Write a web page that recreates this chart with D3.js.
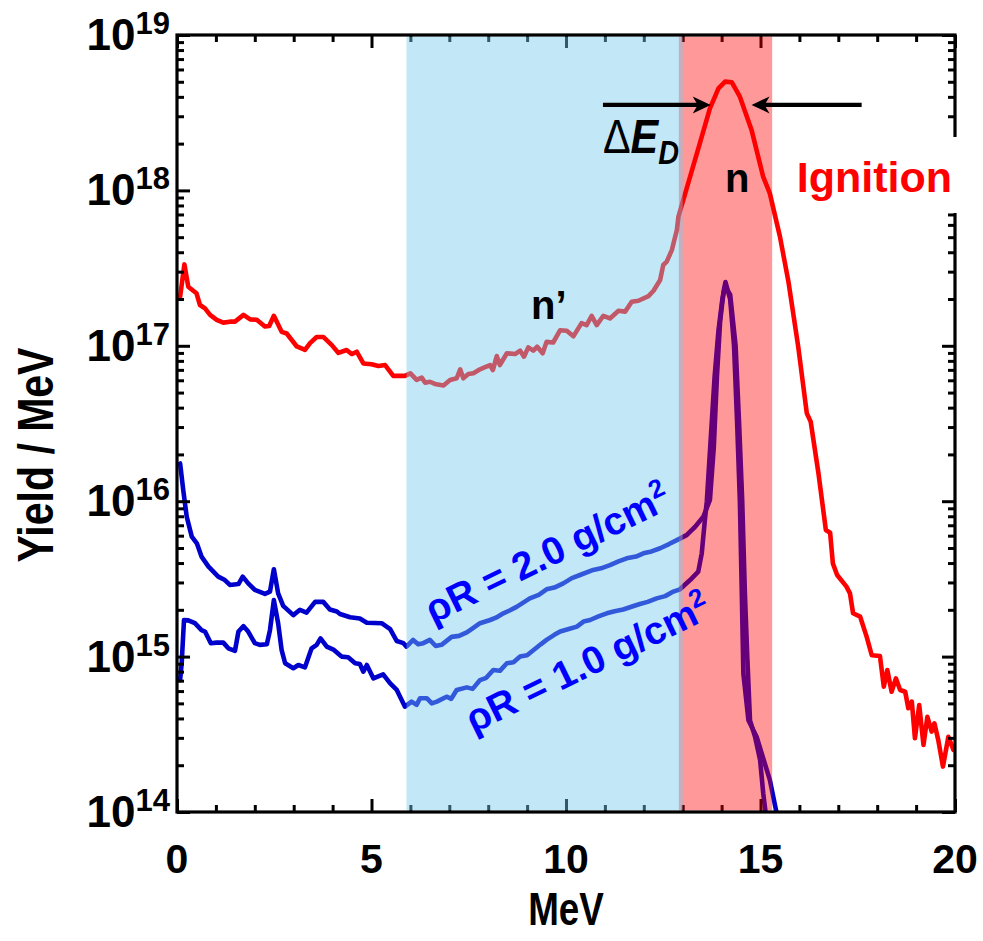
<!DOCTYPE html>
<html><head><meta charset="utf-8">
<script src="https://cdn.jsdelivr.net/npm/d3@7"></script>
<style>
body{margin:0;background:#fff}
text{font-family:"Liberation Sans",Arial,Helvetica,sans-serif;font-weight:bold}
</style>
</head><body>
<svg id="chart" width="983" height="941"></svg>
<script>
// ---------------- data ----------------
const xTicksMajor = [0, 5, 10, 15, 20];
const yDecades = [1e14, 1e15, 1e16, 1e17, 1e18, 1e19];
const yExponents = ["14", "15", "16", "17", "18", "19"];

// Ignition spectrum (red)
const ignitionE = [0.08,0.19,0.29,0.5,0.59,0.72,0.85,1.02,1.19,1.36,1.49,1.71,1.88,2.05,2.26,2.37,2.49,2.69,2.82,3.08,3.29,3.42,3.59,3.76,3.98,4.15,4.36,4.49,4.62,4.79,5.0,5.18,5.35,5.56,5.86,6.0,6.16,6.29,6.38,6.5,6.63,6.85,7.02,7.19,7.28,7.36,7.49,7.62,7.79,7.92,8.05,8.12,8.22,8.3,8.48,8.69,8.82,8.92,9.03,9.16,9.26,9.4,9.5,9.67,9.85,10.02,10.19,10.4,10.53,10.66,10.79,10.96,11.13,11.35,11.52,11.69,11.86,12.12,12.25,12.42,12.5,12.59,12.72,12.85,12.89,13.14,13.44,13.7,13.92,14.09,14.26,14.47,14.77,15.07,15.24,15.5,15.72,15.97,16.19,16.29,16.49,16.68,16.79,16.86,16.97,17.21,17.3,17.38,17.56,17.73,17.86,18.07,18.17,18.26,18.37,18.48,18.59,18.72,18.8,18.89,18.97,19.08,19.19,19.29,19.4,19.47,19.57,19.69,19.83,19.96];
const ignitionY = [2.07e17,3.34e17,2.4e17,2.18e17,1.83e17,1.74e17,1.58e17,1.47e17,1.41e17,1.43e17,1.43e17,1.58e17,1.48e17,1.47e17,1.33e17,1.34e17,1.56e17,1.23e17,1.2e17,9.9e16,9.4e16,1.04e17,1.14e17,1.14e17,1.01e17,9.0e16,9.4e16,8.85e16,9.16e16,7.7e16,7.6e16,7.41e16,7.52e16,6.4e16,6.4e16,6.65e16,6.03e16,6.24e16,5.79e16,5.87e16,5.68e16,5.56e16,6.03e16,6.18e16,7.06e16,6.18e16,6.58e16,6.65e16,7.06e16,7.28e16,7.52e16,6.98e16,8.59e16,7.52e16,8.95e16,8.85e16,9.31e16,8.51e16,9.77e16,9.31e16,9.86e16,8.95e16,1.06e17,1.05e17,1.26e17,1.25e17,1.15e17,1.40e17,1.36e17,1.56e17,1.36e17,1.56e17,1.50e17,1.68e17,1.66e17,1.92e17,1.95e17,2.09e17,2.26e17,2.65e17,3.31e17,3.48e17,4.13e17,5.56e17,6.78e17,1.11e18,2.01e18,3.37e18,4.54e18,5.01e18,4.97e18,4.01e18,2.45e18,1.22e18,9.57e17,5.04e17,2.57e17,9.86e16,3.68e16,3.25e16,1.51e16,6.53e15,6.27e15,3.98e15,3.35e15,2.82e15,2.55e15,1.90e15,1.81e15,1.34e15,1.02e15,1.01e15,6.41e14,8.2e14,5.94e14,7.24e14,6.1e14,5.94e14,4.65e14,5.13e14,2.98e14,4.88e14,2.7e14,4.1e14,3.29e14,3.72e14,2.9e14,1.96e14,3.05e14,2.51e14];

// rhoR = 2.0 g/cm2 (upper blue)
const rho2E = [0.08,0.16,0.25,0.38,0.51,0.63,0.81,1.06,1.23,1.36,1.58,1.69,1.83,2.0,2.26,2.39,2.49,2.6,2.73,2.99,3.16,3.33,3.55,3.76,3.93,4.11,4.19,4.45,4.7,4.88,5.26,5.48,5.65,5.82,5.9,6.07,6.2,6.33,6.5,6.65,6.8,7.06,7.25,7.45,7.6,7.79,8.05,8.2,8.39,8.55,8.73,9.07,9.3,9.5,9.7,9.93,10.15,10.36,10.7,10.9,11.13,11.35,11.56,11.8,11.99,12.2,12.42,12.65,12.85,13.1,13.32,13.53,13.7,13.8,13.88,13.96,14.05,14.1,14.22,14.32,14.4,14.47,14.52,14.56,14.69,14.9,15.24,15.45];
const rho2Y = [1.75e16,1.18e16,7.94e15,5.92e15,5.36e15,4.4e15,3.79e15,3.27e15,3.11e15,2.89e15,2.93e15,3.27e15,2.96e15,2.69e15,2.53e15,2.62e15,3.65e15,2.55e15,2.12e15,1.85e15,2.0e15,1.92e15,2.25e15,2.25e15,2.01e15,1.95e15,1.88e15,1.79e15,1.76e15,1.65e15,1.64e15,1.5e15,1.26e15,1.22e15,1.16e15,1.28e15,1.2e15,1.22e15,1.28e15,1.17e15,1.19e15,1.34e15,1.36e15,1.43e15,1.52e15,1.64e15,1.72e15,1.78e15,1.9e15,1.98e15,2.09e15,2.37e15,2.5e15,2.71e15,2.78e15,2.96e15,3.2e15,3.35e15,3.61e15,3.7e15,3.88e15,4.1e15,4.29e15,4.4e15,4.62e15,4.75e15,4.98e15,5.3e15,5.62e15,6.05e15,6.85e15,7.94e15,1.02e16,2.24e16,6.31e16,1.41e17,2.24e17,2.57e17,2.0e17,1.0e17,3.16e16,1.0e16,2.51e15,7.76e14,3.89e14,3.05e14,1.61e14,8.9e13];

// rhoR = 1.0 g/cm2 (lower blue)
const rho1E = [0.08,0.12,0.18,0.29,0.46,0.63,0.72,0.87,1.02,1.19,1.32,1.49,1.58,1.71,1.83,2.0,2.13,2.31,2.39,2.49,2.6,2.69,2.78,2.99,3.12,3.29,3.46,3.59,3.69,3.85,4.02,4.23,4.4,4.58,4.7,4.79,4.88,5.05,5.3,5.48,5.65,5.86,6.03,6.16,6.25,6.42,6.55,6.68,6.93,7.05,7.19,7.45,7.6,7.79,7.95,8.13,8.3,8.48,8.65,8.82,9.0,9.16,9.35,9.5,9.7,9.85,10.05,10.28,10.45,10.62,10.85,11.05,11.25,11.47,11.7,11.9,12.1,12.33,12.55,12.76,12.93,13.19,13.4,13.49,13.57,13.62,13.72,13.82,13.92,14.02,14.09,14.22,14.36,14.45,14.53,14.6,14.66,14.73,14.86,14.99,15.07,15.18];
const rho1Y = [7.06e14,9.06e14,1.72e15,1.71e15,1.64e15,1.48e15,1.45e15,1.22e15,1.23e15,1.23e15,1.13e15,1.09e15,1.45e15,1.57e15,1.45e15,1.22e15,1.19e15,1.2e15,1.48e15,2.31e15,1.64e15,1.1e15,9.06e14,8.41e14,8.83e14,8.53e14,1.13e15,1.19e15,1.31e15,1.16e15,1.11e15,1.0e15,9.9e14,9.06e14,8.95e14,8.0e14,8.83e14,7.24e14,7.69e14,6.73e14,6.1e14,4.76e14,5.13e14,4.89e14,5.4e14,5.4e14,5.0e14,5.13e14,5.52e14,5.35e14,6.1e14,6.34e14,6.2e14,7.06e14,7.3e14,8.2e14,8.1e14,9.06e14,9.2e14,1.0e15,1.02e15,1.1e15,1.2e15,1.28e15,1.38e15,1.45e15,1.5e15,1.56e15,1.68e15,1.72e15,1.82e15,1.9e15,1.96e15,2.01e15,2.1e15,2.18e15,2.25e15,2.37e15,2.45e15,2.62e15,2.71e15,3.11e15,3.52e15,4.62e15,7.57e15,1.0e16,2.51e16,6.31e16,1.26e17,2.0e17,2.4e17,2.14e17,1.0e17,3.16e16,1.0e16,2.51e15,1.0e15,3.89e14,3.05e14,2.16e14,1.32e14,7.9e13];

// shaded regions (MeV)
const scatterBand = [5.9, 13.0];
const peakBand = [12.9, 15.3];

// ---------------- layout ----------------
const svg = d3.select("#chart");
const L = 177, R = 955, T = 35, B = 812;
const x = d3.scaleLinear().domain([0, 20]).range([L, R]);
const y = d3.scaleLog().domain([1e14, 1e19]).range([B, T]);

svg.append("defs").append("clipPath").attr("id", "plotclip")
  .append("rect").attr("x", L).attr("y", T).attr("width", R - L).attr("height", B - T);

const line = d3.line().x(d => x(d[0])).y(d => y(d[1]));
const curves = [
  {E: ignitionE, Y: ignitionY, color: "#ff0000"},
  {E: rho2E, Y: rho2Y, color: "#0000cc"},
  {E: rho1E, Y: rho1Y, color: "#0000cc"}
];
const gCurves = svg.append("g").attr("clip-path", "url(#plotclip)");
curves.forEach(c => {
  gCurves.append("path")
    .datum(c.E.map((e, i) => [e, c.Y[i]]))
    .attr("d", line)
    .attr("fill", "none")
    .attr("stroke", c.color)
    .attr("stroke-width", 4.6)
    .attr("stroke-linejoin", "round")
    .attr("stroke-linecap", "round");
});

// ---------------- axes ----------------
const minorX = d3.range(0, 21).filter(v => v % 5 !== 0);
const minorY = [];
yDecades.slice(0, -1).forEach(d => { for (let k = 2; k <= 9; k++) minorY.push(d * k); });

function styleAxis(g) {
  g.select(".domain").remove();
  g.selectAll(".tick line").attr("stroke", "#000").attr("stroke-width", 3);
  g.selectAll(".tick text").remove();
}
svg.append("g").attr("transform", `translate(0,${B})`)
  .call(d3.axisBottom(x).tickValues(xTicksMajor).tickSize(-13)).call(styleAxis);
svg.append("g").attr("transform", `translate(0,${B})`)
  .call(d3.axisBottom(x).tickValues(minorX).tickSize(-7)).call(styleAxis);
svg.append("g").attr("transform", `translate(0,${T})`)
  .call(d3.axisTop(x).tickValues(xTicksMajor).tickSize(-13)).call(styleAxis);
svg.append("g").attr("transform", `translate(0,${T})`)
  .call(d3.axisTop(x).tickValues(minorX).tickSize(-7)).call(styleAxis);
svg.append("g").attr("transform", `translate(${L},0)`)
  .call(d3.axisLeft(y).tickValues(yDecades).tickSize(-13)).call(styleAxis);
svg.append("g").attr("transform", `translate(${L},0)`)
  .call(d3.axisLeft(y).tickValues(minorY).tickSize(-7)).call(styleAxis);
svg.append("g").attr("transform", `translate(${R},0)`)
  .call(d3.axisRight(y).tickValues(yDecades).tickSize(-13)).call(styleAxis);
svg.append("g").attr("transform", `translate(${R},0)`)
  .call(d3.axisRight(y).tickValues(minorY).tickSize(-7)).call(styleAxis);

// shaded bands (translucent, over curves and ticks)
svg.append("rect")
  .attr("x", x(peakBand[0])).attr("y", T + 1.5)
  .attr("width", x(peakBand[1]) - x(peakBand[0])).attr("height", B - T - 3)
  .attr("fill", "rgb(255,0,0)").attr("fill-opacity", 0.4);
svg.append("rect")
  .attr("x", x(scatterBand[0])).attr("y", T + 1.5)
  .attr("width", x(scatterBand[1]) - x(scatterBand[0])).attr("height", B - T - 3)
  .attr("fill", "rgb(116,203,240)").attr("fill-opacity", 0.44);

// frame
svg.append("rect").attr("x", L).attr("y", T).attr("width", R - L).attr("height", B - T)
  .attr("fill", "none").attr("stroke", "#000").attr("stroke-width", 3.2);

// tick labels
svg.append("g").selectAll("text").data(xTicksMajor).join("text")
  .attr("x", d => x(d)).attr("y", 873)
  .attr("text-anchor", "middle").attr("font-size", 41).text(d => d);
const yl = svg.append("g").selectAll("text").data(yDecades).join("text")
  .attr("x", 170).attr("y", d => y(d) + 15)
  .attr("text-anchor", "end").attr("font-size", 44);
yl.append("tspan").text("10");
yl.append("tspan").attr("dy", -16).attr("font-size", 31).text((d, i) => yExponents[i]);

// axis titles
svg.append("text").attr("transform", "translate(566,925) scale(0.8,1)")
  .attr("text-anchor", "middle").attr("font-size", 46).text("MeV");
svg.append("text").attr("transform", "translate(53,455) rotate(-90) scale(0.82,1)")
  .attr("text-anchor", "middle").attr("font-size", 50).text("Yield / MeV");

// ---------------- annotations ----------------
svg.append("rect").attr("x", 795).attr("y", 137).attr("width", 163).attr("height", 76).attr("fill", "#fff");
svg.append("text").attr("x", 952).attr("y", 192).attr("text-anchor", "end")
  .attr("font-size", 43).attr("fill", "#ff0000").text("Ignition");

svg.append("text").attr("x", x(14.4)).attr("y", 192).attr("text-anchor", "middle")
  .attr("font-size", 40).text("n");
svg.append("text").attr("x", x(9.1)).attr("y", 319).attr("text-anchor", "start")
  .attr("font-size", 40).text("n\u2019");

const de = svg.append("text").attr("transform", `translate(${x(10.95)},153) scale(0.9,1.05)`).attr("font-size", 46);
de.append("tspan").attr("font-weight", "normal").text("\u0394");
de.append("tspan").attr("font-style", "italic").text("E");
de.append("tspan").attr("font-style", "italic").attr("font-size", 32).attr("dy", 10).text("D");

const arrowY = 3.55e18;
function arrow(x0, x1) {
  const X0 = x(x0), X1 = x(x1), Y = y(arrowY);
  const dir = Math.sign(X1 - X0);
  svg.append("line").attr("x1", X0).attr("y1", Y).attr("x2", X1 - dir * 10).attr("y2", Y)
    .attr("stroke", "#000").attr("stroke-width", 4.2);
  svg.append("path")
    .attr("d", `M${X1},${Y} L${X1 - dir * 18},${Y - 8.5} L${X1 - dir * 13},${Y} L${X1 - dir * 18},${Y + 8.5} Z`)
    .attr("fill", "#000");
}
arrow(10.95, 13.72);
arrow(17.6, 14.77);

svg.append("text").attr("transform", `translate(${x(6.58)},${y(1.62e15)}) rotate(-26)`)
  .attr("font-size", 39).attr("fill", "#0000ff")
  .html('ρR = 2.0 g/cm<tspan font-size="26" dy="-15">2</tspan>');
svg.append("text").attr("transform", `translate(${x(7.62)},${y(3.2e14)}) rotate(-26)`)
  .attr("font-size", 39).attr("fill", "#0000ff")
  .html('ρR = 1.0 g/cm<tspan font-size="26" dy="-15">2</tspan>');
</script>
</body></html>
